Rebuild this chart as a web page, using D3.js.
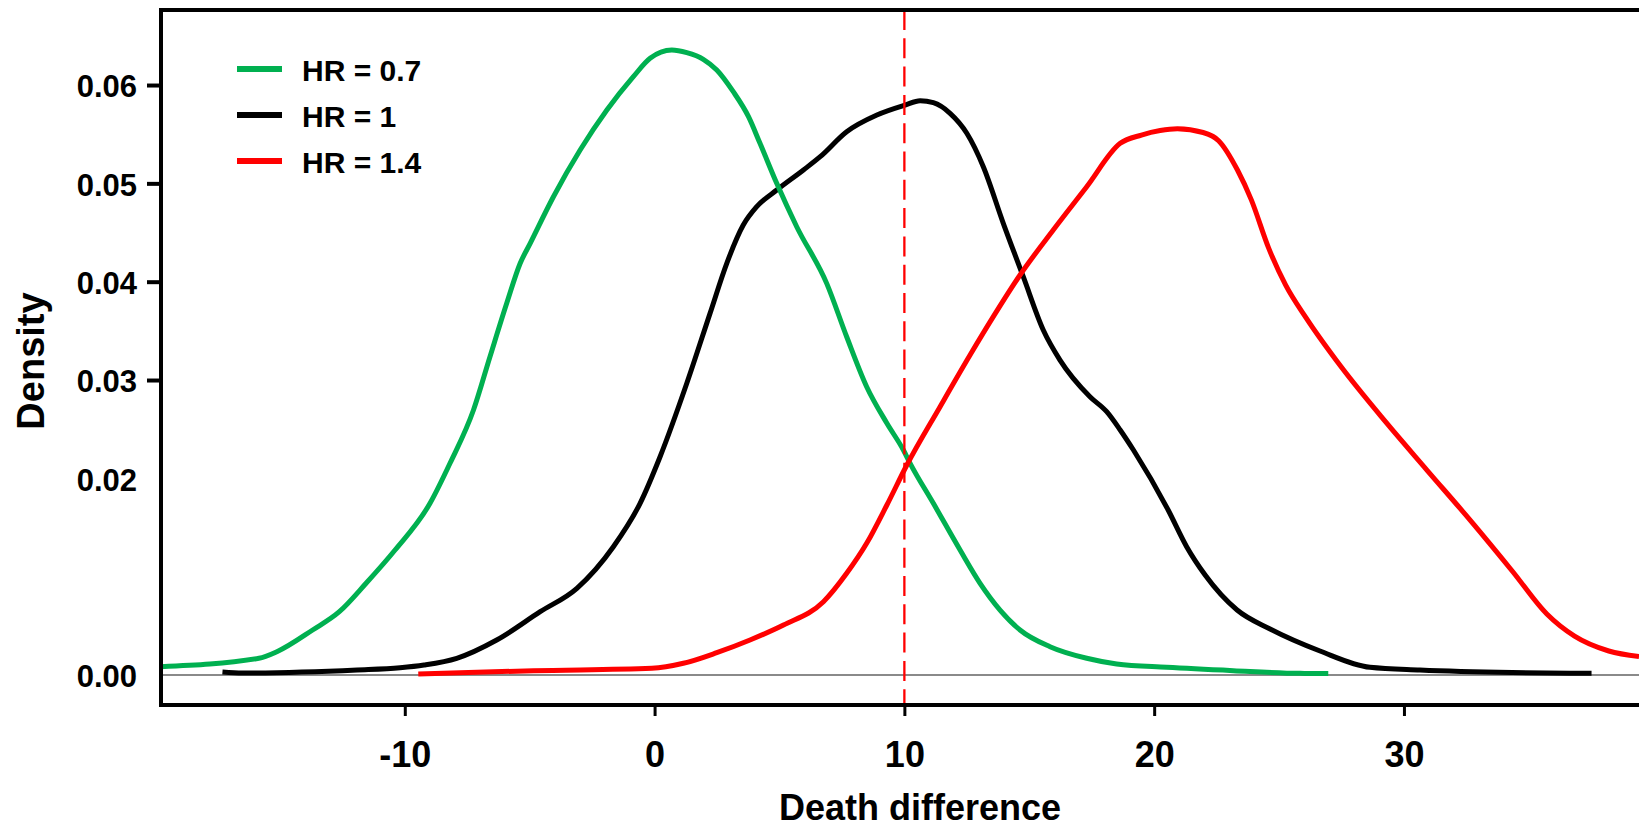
<!DOCTYPE html>
<html>
<head>
<meta charset="utf-8">
<script src="https://cdn.jsdelivr.net/npm/d3@7"></script>
<style>
  html, body { margin: 0; padding: 0; background: #fff; }
  svg { display: block; }
  text { font-family: "Liberation Sans", Arial, sans-serif; font-weight: bold; fill: #000; }
</style>
</head>
<body>
<svg id="chart" width="1639" height="829"></svg>
<script>
// ---------------- data ----------------
const seriesNames = ["HR = 0.7", "HR = 1", "HR = 1.4"];
const seriesColors = ["#00B050", "#000000", "#FF0000"];

const hr07 = [
  [-19.77, 0.00084], [-15.84, 0.0017], [-15.12, 0.00237], [-13.69, 0.00458], [-12.62, 0.00644],
  [-11.55, 0.00933], [-10.39, 0.01271], [-8.99, 0.01746], [-8.19, 0.02153], [-7.25, 0.02695],
  [-6.59, 0.03237], [-5.92, 0.0378], [-5.38, 0.04187], [-4.98, 0.0439], [-4.05, 0.04864],
  [-2.98, 0.05339], [-1.91, 0.05746], [-0.85, 0.06085], [-0.18, 0.06272], [0.69, 0.06356],
  [1.29, 0.06329], [1.95, 0.06262], [2.49, 0.06153], [3.15, 0.05932], [3.76, 0.05678],
  [4.22, 0.05407], [4.89, 0.05], [5.69, 0.04559], [6.89, 0.03983], [7.69, 0.0344],
  [8.49, 0.02932], [9.3, 0.0256], [9.96, 0.02288], [10.23, 0.02153], [11.16, 0.01746],
  [12.23, 0.01271], [13.03, 0.00933], [13.83, 0.00661], [14.63, 0.00458], [15.83, 0.00288],
  [17.3, 0.0017], [18.5, 0.00112], [20.5, 0.00078], [23.17, 0.00044], [25.84, 0.00017],
  [26.97, 0.00015]
];

const hr10 = [
  [-17.3, 0.0003], [-16.5, 0.0002], [-11.91, 0.00051], [-10.19, 0.00074], [-9.23, 0.00102],
  [-7.92, 0.0017], [-6.32, 0.00356], [-4.58, 0.00644], [-3.11, 0.00882], [-1.65, 0.01305],
  [-0.58, 0.01746], [0.22, 0.0222], [1.29, 0.02967], [2.22, 0.03678], [2.89, 0.04187],
  [3.55, 0.04576], [4.09, 0.04763], [4.89, 0.04932], [5.96, 0.05136], [6.63, 0.05271],
  [7.69, 0.05525], [8.9, 0.05695], [10.03, 0.05796], [10.63, 0.0584], [11.16, 0.0582],
  [11.83, 0.05712], [12.5, 0.05509], [13.16, 0.05169], [13.96, 0.04594], [14.76, 0.04051],
  [15.56, 0.03509], [16.23, 0.03203], [17.43, 0.0283], [18.1, 0.02678], [18.64, 0.02492],
  [19.17, 0.02288], [20.56, 0.01678], [21.3, 0.01305], [22.04, 0.01017], [23.32, 0.00661],
  [24.64, 0.00468], [26.64, 0.00244], [28.64, 0.00078], [30.64, 0.00051], [34.33, 0.00025],
  [37.51, 0.00018]
];

const hr14 = [
  [-9.46, 0.0001], [-4.85, 0.00044], [-0.11, 0.00068], [1.15, 0.00119], [2.49, 0.00227],
  [3.82, 0.00356], [5.16, 0.00508], [6.76, 0.00745], [7.69, 0.01034], [8.49, 0.01339],
  [9.3, 0.01729], [10.1, 0.02136], [11.43, 0.02729], [12.63, 0.03254], [13.56, 0.03644],
  [14.63, 0.04068], [15.96, 0.04526], [17.3, 0.04966], [18.64, 0.05407], [19.49, 0.05491],
  [20.24, 0.05537], [20.93, 0.05555], [21.96, 0.05517], [22.58, 0.05434], [23.34, 0.05133],
  [23.89, 0.04832], [24.58, 0.04344], [25.26, 0.03967], [26.09, 0.03629], [27.47, 0.03139],
  [29.26, 0.02576], [30.91, 0.02087], [32.7, 0.0156], [34.35, 0.01053], [35.72, 0.0062],
  [36.83, 0.00395], [38.2, 0.00244], [39.41, 0.00187]
];

const xTickValues = [-10, 0, 10, 20, 30];
const xTickLabels = ["-10", "0", "10", "20", "30"];
const yTickLabelValues = [0, 0.02, 0.03, 0.04, 0.05, 0.06];
const yTickMarkValues = [0.03, 0.04, 0.05, 0.06];
const xDomain = [-19.76, 39.65];
const yDomain = [-0.00305, 0.06763];
const refLineX = 10;
const xTitle = "Death difference";
const yTitle = "Density";

// ---------------- layout ----------------
const svg = d3.select("#chart");
const pLeft = 161, pRight = 1645, pTop = 10, pBottom = 705;

const x = d3.scaleLinear().domain(xDomain).range([pLeft, pRight]);
const y = d3.scaleLinear().domain(yDomain).range([pBottom, pTop]);

// zero line
svg.append("line")
  .attr("x1", pLeft).attr("x2", pRight)
  .attr("y1", y(0)).attr("y2", y(0))
  .attr("stroke", "#8a8a8a").attr("stroke-width", 2);

// curves
const line = d3.line().x(d => x(d[0])).y(d => y(d[1])).curve(d3.curveMonotoneX);
const allSeries = [hr07, hr10, hr14];
const drawOrder = [1, 0, 2];
drawOrder.forEach(i => {
  svg.append("path")
    .datum(allSeries[i])
    .attr("d", line)
    .attr("fill", "none")
    .attr("stroke", seriesColors[i])
    .attr("stroke-width", 5)
    .attr("stroke-linejoin", "round");
});

// dashed reference line
svg.append("line")
  .attr("x1", x(refLineX)).attr("x2", x(refLineX))
  .attr("y1", pTop).attr("y2", pBottom)
  .attr("stroke", "#FF0000").attr("stroke-width", 2.3)
  .attr("stroke-dasharray", "20,8.3");

// frame
svg.append("path")
  .attr("d", `M${pRight},${pTop}H${pLeft}V${pBottom}H${pRight}`)
  .attr("fill", "none").attr("stroke", "#000").attr("stroke-width", 4)
  .attr("stroke-linejoin", "miter");

// x axis
const xAxis = svg.append("g")
  .attr("transform", `translate(0,${pBottom})`)
  .call(d3.axisBottom(x).tickValues(xTickValues).tickSize(11)
    .tickFormat((d, i) => xTickLabels[i]));
xAxis.select(".domain").remove();
xAxis.selectAll(".tick line").attr("stroke", "#000").attr("stroke-width", 3);
xAxis.selectAll(".tick text")
  .attr("y", 0).attr("dy", null)
  .attr("transform", "translate(0,62)")
  .style("font-size", "36px")
  .style("font-family", "'Liberation Sans', Arial, sans-serif")
  .style("font-weight", "bold");

// y axis
const yAxis = svg.append("g")
  .attr("transform", `translate(${pLeft},0)`)
  .call(d3.axisLeft(y).tickValues(yTickLabelValues).tickSize(14).tickFormat(d3.format(".2f")));
yAxis.select(".domain").remove();
yAxis.selectAll(".tick line")
  .attr("stroke", "#000").attr("stroke-width", 4)
  .attr("display", d => yTickMarkValues.includes(d) ? null : "none");
yAxis.selectAll(".tick text")
  .attr("x", -24).attr("dy", "0.38em")
  .style("font-size", "31px")
  .style("font-family", "'Liberation Sans', Arial, sans-serif")
  .style("font-weight", "bold");

// axis titles
svg.append("text")
  .attr("x", (pLeft + 1639) / 2 + 20).attr("y", 820)
  .attr("text-anchor", "middle")
  .style("font-size", "36px")
  .text(xTitle);

svg.append("text")
  .attr("transform", "translate(44,361) rotate(-90)")
  .attr("text-anchor", "middle")
  .style("font-size", "38px")
  .text(yTitle);

// legend
const legendY = [69, 115, 161];
const legend = svg.append("g");
seriesNames.forEach((name, i) => {
  legend.append("line")
    .attr("x1", 237).attr("x2", 282)
    .attr("y1", legendY[i]).attr("y2", legendY[i])
    .attr("stroke", seriesColors[i]).attr("stroke-width", 6);
  legend.append("text")
    .attr("x", 302).attr("y", legendY[i] + 12)
    .style("font-size", "30px")
    .text(name);
});
</script>
</body>
</html>
